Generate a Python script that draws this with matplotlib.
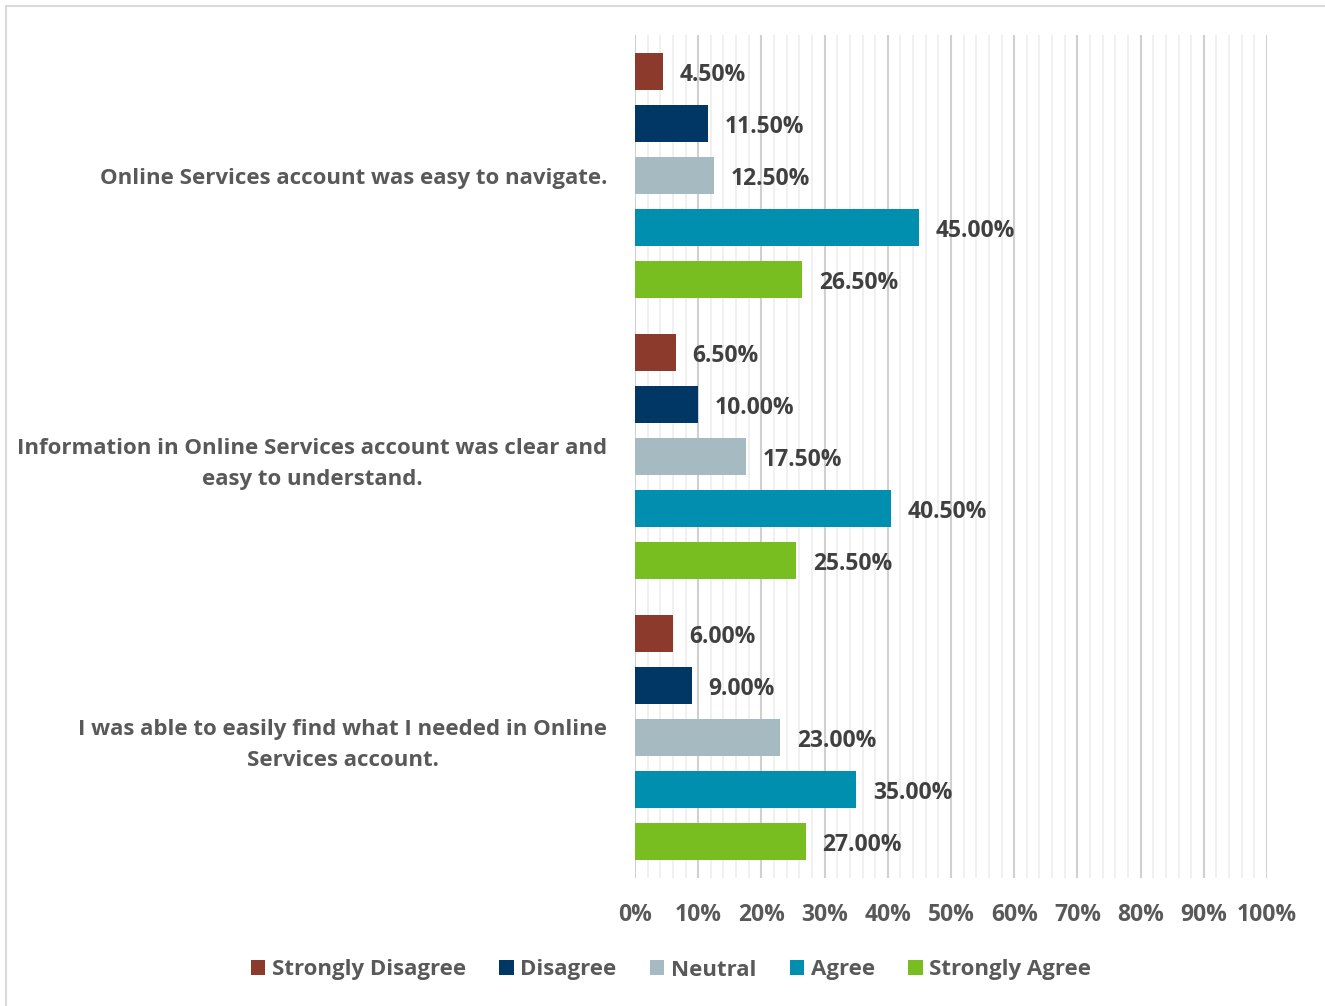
import numpy as np
import matplotlib.pyplot as plt
from matplotlib.patches import Rectangle, Patch

plt.rcParams["font.family"] = ["Open Sans", "DejaVu Sans"]

statements = [
    "Online Services account was easy to navigate.",
    "Information in Online Services account was clear and\neasy to understand.",
    "I was able to easily find what I needed in Online\nServices account.",
]
responses = ["Strongly Disagree", "Disagree", "Neutral", "Agree", "Strongly Agree"]
colors = ["#8B3A2B", "#003764", "#A5BAC1", "#008FAE", "#78BE20"]

strongly_disagree = [4.5, 6.5, 6.0]
disagree = [11.5, 10.0, 9.0]
neutral = [12.5, 17.5, 23.0]
agree = [45.0, 40.5, 35.0]
strongly_agree = [26.5, 25.5, 27.0]
series = [strongly_disagree, disagree, neutral, agree, strongly_agree]

xticks = np.arange(0, 101, 10)

fig = plt.figure(figsize=(13.25, 10.06), dpi=100)
ax = fig.add_axes([635 / 1325, 1 - 878 / 1006, 632 / 1325, 843 / 1006])

label_color = "#404040"
text_color = "#595959"
fs = 16
num_fs = 16.5

slot = 0.185
bar_h = 0.132
ypos = np.arange(len(statements))
for k, (name, vals, col) in enumerate(zip(responses, series, colors)):
    y = ypos + (k - 2) * slot
    ax.barh(y, vals, height=bar_h, color=col, label=name, zorder=3)
    for yy, v in zip(y, vals):
        ax.annotate(f"{v:.2f}%", (v, yy), xytext=(12, -2.5), textcoords="offset points",
                    ha="left", va="center", fontsize=num_fs, fontweight="bold",
                    color=label_color, zorder=4)

ax.set_xlim(0, 100)
ax.set_ylim(2.5, -0.5)
ax.set_xticks(xticks)
ax.set_xticklabels([f"{t}%" for t in xticks])
ax.set_xticks(np.arange(0, 101, 2), minor=True)
ax.grid(axis="x", which="major", color="#D0D0D0", linewidth=1.5, zorder=0)
ax.grid(axis="x", which="minor", color="#EDEDED", linewidth=1.2, zorder=0)
ax.set_yticks(ypos)
ax.set_yticklabels(statements, multialignment="center", linespacing=1.65)
ax.tick_params(axis="both", which="both", length=0)
ax.tick_params(axis="x", pad=18, labelsize=num_fs, labelcolor=text_color)
ax.tick_params(axis="y", pad=20, labelsize=fs, labelcolor=text_color)
for lbl in ax.get_xticklabels() + ax.get_yticklabels():
    lbl.set_fontweight("bold")
for s in ax.spines.values():
    s.set_visible(False)

handles = [Patch(facecolor=c, label=r) for r, c in zip(responses, colors)]
fig.legend(handles=handles, loc="center", bbox_to_anchor=(671 / 1325, 1 - 970 / 1006),
           ncol=5, frameon=False, handlelength=0.65, handleheight=0.65,
           handletextpad=0.3, columnspacing=1.5,
           prop={"size": fs, "weight": "bold"}, labelcolor=text_color)

# light outer frame
fig.patches.append(Rectangle((6 / 1325, -0.1), 1.2, 1 - 6 / 1006 + 0.1,
                             transform=fig.transFigure, fill=False,
                             edgecolor="#D9D9D9", linewidth=1.5))

fig.savefig("out.png", dpi=100)
